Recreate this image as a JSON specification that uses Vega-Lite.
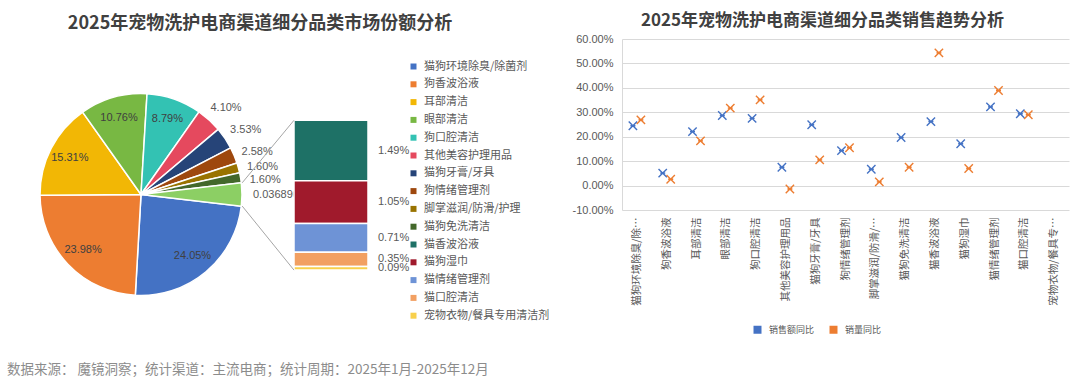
{
  "$schema": "https://vega.github.io/schema/vega-lite/v6.json",
  "background": "white",
  "padding": {"left": 7, "top": 12, "right": 5, "bottom": 5},
  "bounds": "flush",
  "spacing": 52,
  "datasets": {
    "pie": [
      {"rank": 1, "category": "猫狗环境除臭/除菌剂", "share": 0.2405},
      {"rank": 2, "category": "狗香波浴液", "share": 0.2398},
      {"rank": 3, "category": "耳部清洁", "share": 0.1531},
      {"rank": 4, "category": "眼部清洁", "share": 0.1076},
      {"rank": 5, "category": "狗口腔清洁", "share": 0.0879},
      {"rank": 6, "category": "其他美容护理用品", "share": 0.041},
      {"rank": 7, "category": "猫狗牙膏/牙具", "share": 0.0353},
      {"rank": 8, "category": "狗情绪管理剂", "share": 0.0258},
      {"rank": 9, "category": "脚掌滋润/防滑/护理", "share": 0.016},
      {"rank": 10, "category": "猫狗免洗清洁", "share": 0.016},
      {"rank": 11, "category": "其他", "share": 0.0368963544}
    ],
    "sub": [
      {"rank": 11, "category": "猫香波浴液", "share": 0.0149},
      {"rank": 12, "category": "猫狗湿巾", "share": 0.0105},
      {"rank": 13, "category": "猫情绪管理剂", "share": 0.0071},
      {"rank": 14, "category": "猫口腔清洁", "share": 0.0035},
      {"rank": 15, "category": "宠物衣物/餐具专用清洁剂", "share": 0.0009}
    ],
    "trend": [
      {"category": "猫狗环境除臭/除菌剂", "series": "销售额同比", "value": 0.245},
      {"category": "猫狗环境除臭/除菌剂", "series": "销量同比", "value": 0.269},
      {"category": "狗香波浴液", "series": "销售额同比", "value": 0.051},
      {"category": "狗香波浴液", "series": "销量同比", "value": 0.026},
      {"category": "耳部清洁", "series": "销售额同比", "value": 0.221},
      {"category": "耳部清洁", "series": "销量同比", "value": 0.183},
      {"category": "眼部清洁", "series": "销售额同比", "value": 0.287},
      {"category": "眼部清洁", "series": "销量同比", "value": 0.317},
      {"category": "狗口腔清洁", "series": "销售额同比", "value": 0.275},
      {"category": "狗口腔清洁", "series": "销量同比", "value": 0.351},
      {"category": "其他美容护理用品", "series": "销售额同比", "value": 0.075},
      {"category": "其他美容护理用品", "series": "销量同比", "value": -0.014},
      {"category": "猫狗牙膏/牙具", "series": "销售额同比", "value": 0.249},
      {"category": "猫狗牙膏/牙具", "series": "销量同比", "value": 0.105},
      {"category": "狗情绪管理剂", "series": "销售额同比", "value": 0.143},
      {"category": "狗情绪管理剂", "series": "销量同比", "value": 0.155},
      {"category": "脚掌滋润/防滑/护理", "series": "销售额同比", "value": 0.067},
      {"category": "脚掌滋润/防滑/护理", "series": "销量同比", "value": 0.015},
      {"category": "猫狗免洗清洁", "series": "销售额同比", "value": 0.197},
      {"category": "猫狗免洗清洁", "series": "销量同比", "value": 0.075},
      {"category": "猫香波浴液", "series": "销售额同比", "value": 0.262},
      {"category": "猫香波浴液", "series": "销量同比", "value": 0.543},
      {"category": "猫狗湿巾", "series": "销售额同比", "value": 0.171},
      {"category": "猫狗湿巾", "series": "销量同比", "value": 0.07},
      {"category": "猫情绪管理剂", "series": "销售额同比", "value": 0.322},
      {"category": "猫情绪管理剂", "series": "销量同比", "value": 0.389},
      {"category": "猫口腔清洁", "series": "销售额同比", "value": 0.294},
      {"category": "猫口腔清洁", "series": "销量同比", "value": 0.29}
    ]
  },
  "hconcat": [
    {
      "width": 202,
      "height": 311,
      "data": {"name": "pie"},
      "title": {"text": "2025年宠物洗护电商渠道细分品类市场份额分析", "anchor": "middle", "frame": "group", "dx": 119, "offset": 6, "fontSize": 18, "fontWeight": "bold", "color": "#404040", "font": "Noto Sans CJK SC"},
      "layer": [
        {
          "mark": {"type": "arc", "stroke": "white", "strokeWidth": 1.5},
          "encoding": {
            "theta": {"field": "share", "type": "quantitative", "stack": true, "scale": {"range": [1.6867, 7.9699]}},
            "order": {"field": "rank", "type": "quantitative"},
            "color": {
              "field": "category", "type": "nominal",
              "scale": {
                "domain": ["猫狗环境除臭/除菌剂", "狗香波浴液", "耳部清洁", "眼部清洁", "狗口腔清洁", "其他美容护理用品", "猫狗牙膏/牙具", "狗情绪管理剂", "脚掌滋润/防滑/护理", "猫狗免洗清洁", "其他"],
                "range": ["#4472C4", "#ED7D31", "#F2B705", "#78B843", "#33C2B3", "#E5495E", "#264478", "#9E480E", "#997300", "#43682B", "#8CCF64"]
              },
              "legend": null
            }
          }
        },
        {
          "mark": {"type": "text", "radius": 80, "fontSize": 11, "font": "Liberation Sans", "color": "#404040"},
          "encoding": {
            "theta": {"field": "share", "type": "quantitative", "stack": true},
            "order": {"field": "rank", "type": "quantitative"},
            "detail": {"field": "category", "type": "nominal"},
            "text": {"field": "share", "type": "quantitative", "format": ".2%"},
            "opacity": {"condition": {"test": "datum.share >= 0.05", "value": 1}, "value": 0}
          }
        },
        {
          "mark": {"type": "text", "radius": 126, "dy": 6, "fontSize": 11, "font": "Liberation Sans", "color": "#595959"},
          "encoding": {
            "theta": {"field": "share", "type": "quantitative", "stack": true},
            "order": {"field": "rank", "type": "quantitative"},
            "detail": {"field": "category", "type": "nominal"},
            "text": {"field": "share", "type": "quantitative", "format": ".2%"},
            "opacity": {"condition": {"test": "datum.share < 0.05 && datum.category != '其他'", "value": 1}, "value": 0}
          }
        },
        {
          "mark": {"type": "text", "radius": 112, "dy": 1, "align": "left", "fontSize": 11, "font": "Liberation Sans", "color": "#595959"},
          "encoding": {
            "theta": {"field": "share", "type": "quantitative", "stack": true},
            "order": {"field": "rank", "type": "quantitative"},
            "detail": {"field": "category", "type": "nominal"},
            "text": {"field": "share", "type": "nominal"},
            "opacity": {"condition": {"test": "datum.category == '其他'", "value": 1}, "value": 0}
          }
        }
      ]
    },
    {
      "width": 276,
      "height": 311,
      "title": {"text": "数据来源： 魔镜洞察；统计渠道：主流电商；统计周期：2025年1月-2025年12月", "orient": "bottom", "anchor": "start", "frame": "group", "dx": -287, "offset": 13, "fontSize": 13.5, "fontWeight": "normal", "color": "#8c8c8c", "font": "Noto Sans CJK SC"},
      "layer": [
        {
          "data": {"name": "sub"},
          "transform": [{"stack": "share", "groupby": [], "sort": [{"field": "rank", "order": "descending"}], "as": ["y0", "y1"]}],
          "mark": {"type": "rect", "stroke": "white", "strokeWidth": 1.5},
          "encoding": {
            "x": {"datum": 0, "type": "quantitative", "scale": {"domain": [0, 3.7297], "nice": false, "zero": false}, "axis": null},
            "x2": {"datum": 1},
            "y": {"field": "y0", "type": "quantitative", "scale": {"domain": [-0.01968, 0.05692], "nice": false, "zero": false}, "axis": null},
            "y2": {"field": "y1"},
            "color": {
              "field": "category", "type": "nominal",
              "scale": {
                "domain": ["猫狗环境除臭/除菌剂", "狗香波浴液", "耳部清洁", "眼部清洁", "狗口腔清洁", "其他美容护理用品", "猫狗牙膏/牙具", "狗情绪管理剂", "脚掌滋润/防滑/护理", "猫狗免洗清洁", "猫香波浴液", "猫狗湿巾", "猫情绪管理剂", "猫口腔清洁", "宠物衣物/餐具专用清洁剂"],
                "range": ["#4472C4", "#ED7D31", "#F2B705", "#78B843", "#33C2B3", "#E5495E", "#264478", "#9E480E", "#997300", "#43682B", "#1E7166", "#A01A2C", "#6E93D6", "#F2A062", "#F8D04C"]
              },
              "legend": {"orient": "none", "legendX": 114, "legendY": 22, "direction": "vertical", "title": null, "symbolType": "square", "symbolSize": 36, "symbolStrokeWidth": 0, "labelFontSize": 11, "labelFont": "Noto Sans CJK SC", "labelColor": "#595959", "labelOffset": 5, "rowPadding": 5.8, "padding": 0, "labelLimit": 300}
            }
          }
        },
        {
          "data": {"name": "sub"},
          "transform": [
            {"stack": "share", "groupby": [], "sort": [{"field": "rank", "order": "descending"}], "as": ["y0", "y1"]},
            {"fold": ["y0", "y1"], "as": ["edge", "pos"]}
          ],
          "mark": {"type": "text", "align": "left", "baseline": "middle", "dx": 10, "fontSize": 11, "font": "Liberation Sans", "color": "#595959"},
          "encoding": {
            "x": {"datum": 1, "type": "quantitative"},
            "y": {"aggregate": "mean", "field": "pos", "type": "quantitative", "stack": null},
            "detail": {"field": "category", "type": "nominal"},
            "text": {"aggregate": "min", "field": "share", "type": "quantitative", "format": ".2%"}
          }
        },
        {
          "data": {"values": [{}]},
          "mark": {"type": "rule", "color": "#a6a6a6", "strokeWidth": 1},
          "encoding": {
            "x": {"datum": -0.7, "type": "quantitative"},
            "x2": {"datum": 0},
            "y": {"datum": 0.0215, "type": "quantitative"},
            "y2": {"datum": 0.0369}
          }
        },
        {
          "data": {"values": [{}]},
          "mark": {"type": "rule", "color": "#a6a6a6", "strokeWidth": 1},
          "encoding": {
            "x": {"datum": -0.7, "type": "quantitative"},
            "x2": {"datum": 0},
            "y": {"datum": 0.01577, "type": "quantitative"},
            "y2": {"datum": 0}
          }
        }
      ]
    },
    {
      "width": 447,
      "height": 171,
      "data": {"name": "trend"},
      "title": {"text": "2025年宠物洗护电商渠道细分品类销售趋势分析", "anchor": "middle", "frame": "group", "dx": -23, "offset": 3, "fontSize": 17, "fontWeight": "bold", "color": "#404040", "font": "Noto Sans CJK SC"},
      "encoding": {
        "x": {
          "field": "category", "type": "nominal", "sort": null,
          "scale": {"type": "band", "domain": ["猫狗环境除臭/除菌剂", "狗香波浴液", "耳部清洁", "眼部清洁", "狗口腔清洁", "其他美容护理用品", "猫狗牙膏/牙具", "狗情绪管理剂", "脚掌滋润/防滑/护理", "猫狗免洗清洁", "猫香波浴液", "猫狗湿巾", "猫情绪管理剂", "猫口腔清洁", "宠物衣物/餐具专用清洁剂"], "paddingInner": 0, "paddingOuter": 0},
          "axis": {"title": null, "labelAngle": -90, "labelLimit": 90, "labelFontSize": 10.5, "labelFont": "Noto Sans CJK SC", "labelColor": "#595959", "ticks": false, "domain": false, "grid": false, "labelPadding": 7}
        },
        "y": {
          "field": "value", "type": "quantitative",
          "scale": {"domain": [-0.1, 0.6], "nice": false, "zero": false},
          "axis": {"title": null, "format": ".2%", "values": [-0.1, 0, 0.1, 0.2, 0.3, 0.4, 0.5, 0.6], "labelFontSize": 11, "labelFont": "Liberation Sans", "labelColor": "#595959", "ticks": false, "domain": true, "domainColor": "#d9d9d9", "grid": true, "gridColor": "#d9d9d9", "labelPadding": 9}
        },
        "fill": {
          "field": "series", "type": "nominal",
          "scale": {"domain": ["销售额同比", "销量同比"], "range": ["#4472C4", "#ED7D31"]},
          "legend": {"orient": "none", "legendX": 131, "legendY": 286, "direction": "horizontal", "title": null, "symbolType": "square", "symbolSize": 64, "symbolStrokeWidth": 0, "symbolOpacity": 1, "labelFontSize": 9, "labelFont": "Noto Sans CJK SC", "labelColor": "#595959", "labelOffset": 7, "columnPadding": 14, "padding": 0}
        },
        "stroke": {
          "field": "series", "type": "nominal",
          "scale": {"domain": ["销售额同比", "销量同比"], "range": ["#4472C4", "#ED7D31"]},
          "legend": null
        }
      },
      "layer": [
        {
          "transform": [{"filter": "datum.series == '销售额同比'"}],
          "mark": {"type": "point", "shape": "M-1,-1L1,1M-1,1L1,-1M-0.6,0L0.6,0", "size": 70, "strokeWidth": 1.4, "filled": true, "opacity": 1, "xOffset": -4}
        },
        {
          "transform": [{"filter": "datum.series == '销量同比'"}],
          "mark": {"type": "point", "shape": "M-1,-1L1,1M-1,1L1,-1M-0.6,0L0.6,0", "size": 70, "strokeWidth": 1.4, "filled": true, "opacity": 1, "xOffset": 4}
        }
      ]
    }
  ],
  "resolve": {"scale": {"color": "independent", "fill": "independent", "stroke": "independent"}, "legend": {"color": "independent"}},
  "config": {
    "view": {"stroke": null},
    "font": "Noto Sans CJK SC",
    "locale": {"number": {"decimal": ".", "thousands": ",", "grouping": [3], "currency": ["", ""], "minus": "-"}}
  }
}
